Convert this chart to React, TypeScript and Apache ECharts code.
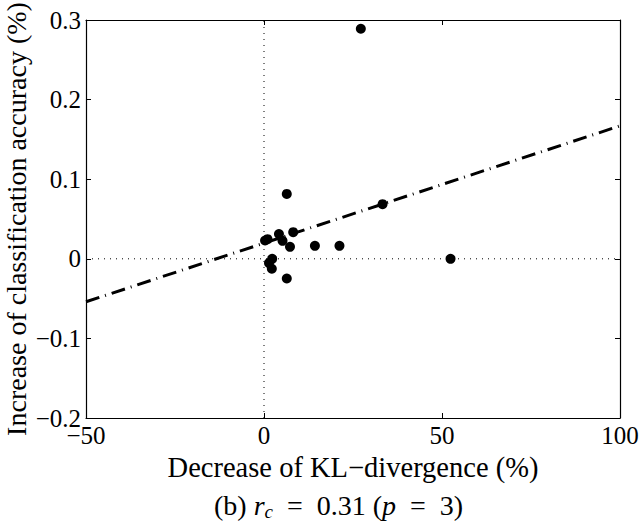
import React, { useEffect, useRef } from "react";
import * as echarts from "echarts";

const xTicks = [-50, 0, 50, 100];
const yTicks = [-0.2, -0.1, 0, 0.1, 0.2, 0.3];
const pointsX = [27.2, 6.4, 4.2, 8.2, 1.0, 0.3, 5.2, 7.3, 14.3, 21.2, 2.3, 1.4, 2.2, 6.4, 33.3, 52.4];
const pointsY = [0.289, 0.0815, 0.031, 0.0335, 0.0247, 0.023, 0.0226, 0.015, 0.0163, 0.0163, 0, -0.0054, -0.0125, -0.0247, 0.0686, 0];
const fitX = [-50, 100];
const fitY = [-0.054, 0.167];

const FONT = "'Liberation Serif', 'DejaVu Serif', serif";

export default function App() {
  const ref = useRef<HTMLDivElement>(null);
  useEffect(() => {
    const chart = echarts.init(ref.current!, null, { renderer: "svg" });
    const axisCommon = {
      type: "value",
      axisLine: { show: true, onZero: false, lineStyle: { color: "#000", width: 1.2 } },
      axisTick: { show: true, inside: true, length: 5, lineStyle: { color: "#000" } },
      splitLine: { show: false },
    };
    const fmtY = (v: number) => {
      const r = Math.round(v * 10) / 10;
      if (r === 0) return "0";
      return (r < 0 ? "\u2212" : "") + Math.abs(r).toFixed(1);
    };
    const fmtX = (v: number) => (v < 0 ? "\u2212" + Math.abs(v) : String(v));
    chart.setOption({
      animation: false,
      backgroundColor: "#fff",
      grid: { left: 86, right: 21, top: 20, bottom: 109, containLabel: false, outerBoundsMode: "none" },
      xAxis: [
        {
          ...axisCommon,
          position: "bottom",
          min: xTicks[0],
          max: xTicks[xTicks.length - 1],
          interval: 50,
          axisLabel: { color: "#000", fontFamily: FONT, fontSize: 25, margin: 5, formatter: fmtX },
          name: "Decrease of KL\u2212divergence (%)",
          nameLocation: "middle",
          nameGap: 35,
          nameMoveOverlap: false,
          nameTextStyle: { color: "#000", fontFamily: FONT, fontSize: 28.5 },
        },
        {
          ...axisCommon,
          position: "top",
          min: xTicks[0],
          max: xTicks[xTicks.length - 1],
          interval: 50,
          axisLabel: { show: false },
        },
      ],
      yAxis: [
        {
          ...axisCommon,
          position: "left",
          min: yTicks[0],
          max: yTicks[yTicks.length - 1],
          interval: 0.1,
          axisLabel: { color: "#000", fontFamily: FONT, fontSize: 25, margin: 5, formatter: fmtY },
          name: "Increase of classification accuracy (%)",
          nameLocation: "middle",
          nameGap: 56,
          nameMoveOverlap: false,
          nameTextStyle: { color: "#000", fontFamily: FONT, fontSize: 28 },
        },
        {
          ...axisCommon,
          position: "right",
          min: yTicks[0],
          max: yTicks[yTicks.length - 1],
          interval: 0.1,
          axisLabel: { show: false },
        },
      ],
      series: [
        {
          type: "line",
          data: [[0, yTicks[0]], [0, yTicks[yTicks.length - 1]]],
          symbol: "none",
          lineStyle: { color: "#000", width: 1, type: [1, 5] },
          silent: true,
        },
        {
          type: "line",
          data: [[xTicks[0], 0], [xTicks[xTicks.length - 1], 0]],
          symbol: "none",
          lineStyle: { color: "#000", width: 1, type: [1, 5] },
          silent: true,
        },
        {
          type: "line",
          data: fitX.map((x, i) => [x, fitY[i]]),
          symbol: "none",
          lineStyle: { color: "#000", width: 3, type: [14, 6, 1, 6] },
          silent: true,
        },
        {
          type: "scatter",
          data: pointsX.map((x, i) => [x, pointsY[i]]),
          symbol: "circle",
          symbolSize: 10,
          itemStyle: { color: "#000", opacity: 1 },
        },
      ],
      graphic: [
        {
          type: "text",
          left: 214,
          top: 491,
          style: {
            text: "(b) {i|r}{s|c}\u2002=\u20020.31 ({i|p}\u2002=\u20023)",
            font: "28px " + FONT,
            fontFamily: FONT,
            fontSize: 28,
            fill: "#000",
            rich: {
              i: { fontFamily: FONT, fontSize: 28, fontStyle: "italic", fill: "#000" },
              s: { fontFamily: FONT, fontSize: 19, fontStyle: "italic", fill: "#000", padding: [12, 0, 0, 0] },
            },
          },
        },
      ],
    });
    return () => chart.dispose();
  }, []);
  return <div ref={ref} style={{ width: 641, height: 527, position: "absolute", left: 0, top: 0 }} />;
}
